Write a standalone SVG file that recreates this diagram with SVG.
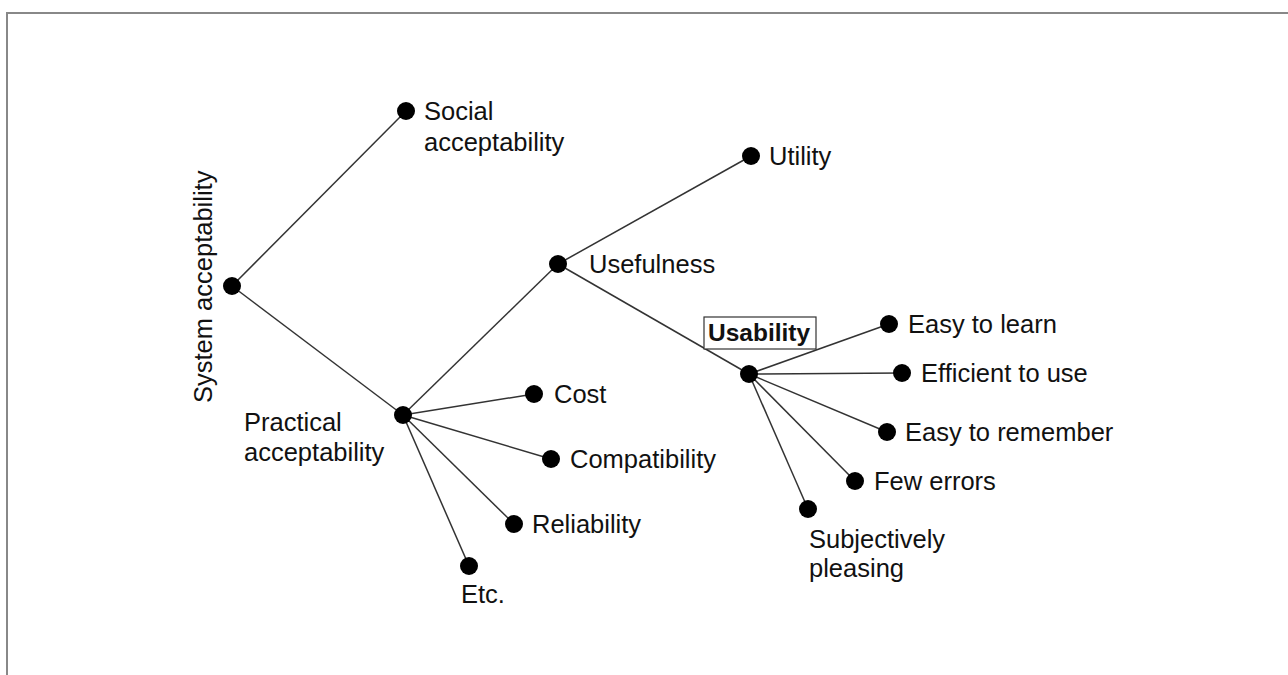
<svg xmlns="http://www.w3.org/2000/svg" width="1288" height="675" viewBox="0 0 1288 675">
<style>
text{font-family:"Liberation Sans",Arial,sans-serif;font-size:25.5px;fill:#111}
.b{font-weight:bold;font-size:24.5px}
line{stroke:#333;stroke-width:1.5}
circle{fill:#000}
</style>
<rect width="1288" height="675" fill="#fff"/>
<path d="M7 680 V13 H1290" fill="none" stroke="#888" stroke-width="2"/>
<g id="connectors">
<line x1="232" y1="286" x2="406" y2="111"/>
<line x1="232" y1="286" x2="403" y2="415"/>
<line x1="403" y1="415" x2="558" y2="264"/>
<line x1="403" y1="415" x2="534" y2="394"/>
<line x1="403" y1="415" x2="551" y2="459"/>
<line x1="403" y1="415" x2="514" y2="524"/>
<line x1="403" y1="415" x2="469" y2="566"/>
<line x1="558" y1="264" x2="751" y2="156"/>
<line x1="558" y1="264" x2="749" y2="374"/>
<line x1="749" y1="374" x2="889" y2="324"/>
<line x1="749" y1="374" x2="902" y2="373"/>
<line x1="749" y1="374" x2="887" y2="432"/>
<line x1="749" y1="374" x2="855" y2="481"/>
<line x1="749" y1="374" x2="808" y2="509"/>
</g>
<g id="system"><circle cx="232" cy="286" r="9"/><text transform="translate(212,403) rotate(-90)">System acceptability</text></g>
<g id="social"><circle cx="406" cy="111" r="9"/><text x="424" y="120">Social</text><text x="424" y="151">acceptability</text></g>
<g id="practical"><circle cx="403" cy="415" r="9"/><text x="244" y="431">Practical</text><text x="244" y="461">acceptability</text></g>
<g id="usefulness"><circle cx="558" cy="264" r="9"/><text x="589" y="273">Usefulness</text></g>
<g id="utility"><circle cx="751" cy="156" r="9"/><text x="769" y="165">Utility</text></g>
<g id="usability"><circle cx="749" cy="374" r="9"/><rect x="704" y="317" width="112" height="32" fill="#fff" stroke="#333" stroke-width="1.2"/><text class="b" x="708" y="341">Usability</text></g>
<g id="learn"><circle cx="889" cy="324" r="9"/><text x="908" y="333">Easy to learn</text></g>
<g id="efficient"><circle cx="902" cy="373" r="9"/><text x="921" y="382">Efficient to use</text></g>
<g id="remember"><circle cx="887" cy="432" r="9"/><text x="905" y="441">Easy to remember</text></g>
<g id="errors"><circle cx="855" cy="481" r="9"/><text x="874" y="490">Few errors</text></g>
<g id="pleasing"><circle cx="808" cy="509" r="9"/><text x="809" y="548">Subjectively</text><text x="809" y="577">pleasing</text></g>
<g id="cost"><circle cx="534" cy="394" r="9"/><text x="554" y="403">Cost</text></g>
<g id="compat"><circle cx="551" cy="459" r="9"/><text x="570" y="468">Compatibility</text></g>
<g id="reliab"><circle cx="514" cy="524" r="9"/><text x="532" y="533">Reliability</text></g>
<g id="etc"><circle cx="469" cy="566" r="9"/><text x="461" y="603">Etc.</text></g>
</svg>
